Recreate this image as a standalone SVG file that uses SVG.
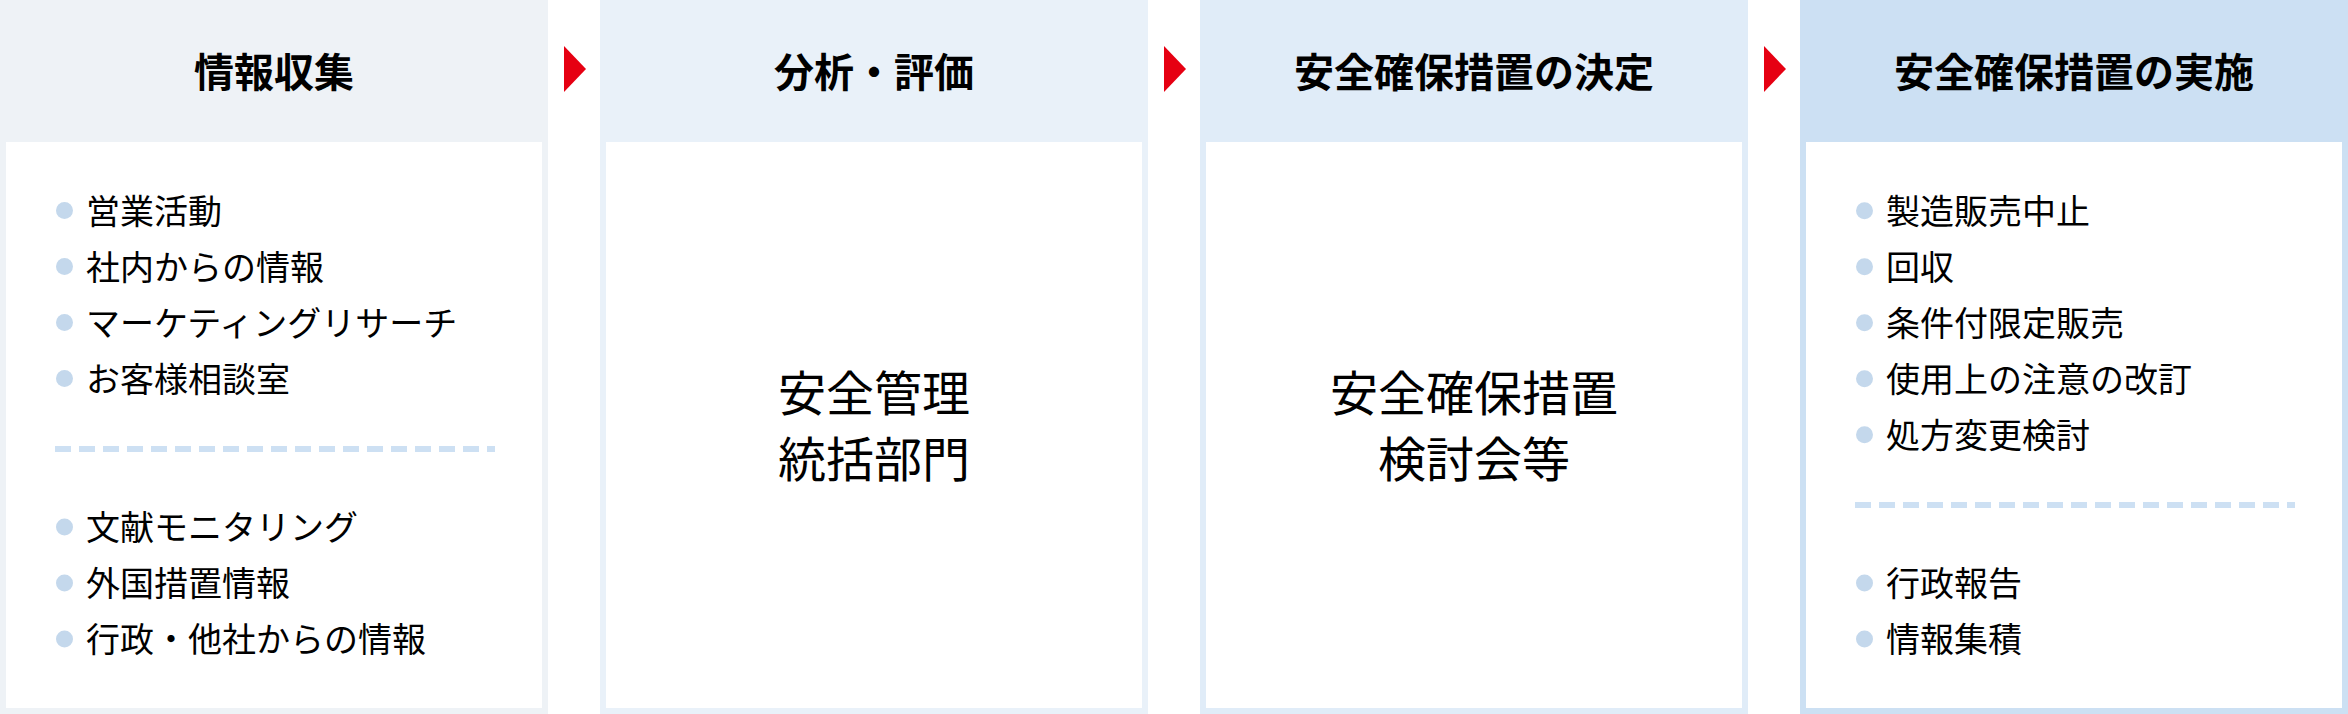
<svg xmlns="http://www.w3.org/2000/svg" width="2348" height="714" viewBox="0 0 2348 714">
<style>
.hd{font-family:"Noto Sans CJK JP","Noto Sans",sans-serif;font-weight:700;font-size:40px;fill:#000;text-anchor:middle}
.li{font-family:"Noto Sans CJK JP","Noto Sans",sans-serif;font-size:34px;fill:#000}
.mid{font-family:"Noto Sans CJK JP","Noto Sans",sans-serif;font-size:48px;fill:#000;text-anchor:middle}
.inner{fill:#fff}
.dot{fill:#c4d8ec}
.dash{stroke:#cde0f3;stroke-width:6;stroke-dasharray:16 8;fill:none}
.arr{fill:#e60012}
</style>
<rect x="0" y="0" width="2348" height="714" fill="#fff"/>
<g id="col1">
<rect x="0" y="0" width="548" height="714" fill="#eef2f6"/>
<rect class="inner" x="6" y="142" width="536" height="566"/>
<text class="hd" x="274" y="87">情報収集</text>
<circle class="dot" cx="64.5" cy="210.5" r="8.5"/><text class="li" x="86" y="223.5">営業活動</text>
<circle class="dot" cx="64.5" cy="266.5" r="8.5"/><text class="li" x="86" y="279.5">社内からの情報</text>
<circle class="dot" cx="64.5" cy="322.5" r="8.5"/><text class="li" x="86" y="335.5">マーケティングリサーチ</text>
<circle class="dot" cx="64.5" cy="378.5" r="8.5"/><text class="li" x="86" y="391.5">お客様相談室</text>
<line class="dash" x1="55" y1="449" x2="495" y2="449"/>
<circle class="dot" cx="64.5" cy="527" r="8.5"/><text class="li" x="86" y="540">文献モニタリング</text>
<circle class="dot" cx="64.5" cy="583" r="8.5"/><text class="li" x="86" y="596">外国措置情報</text>
<circle class="dot" cx="64.5" cy="639" r="8.5"/><text class="li" x="86" y="652">行政・他社からの情報</text>
</g>
<g id="col2">
<rect x="600" y="0" width="548" height="714" fill="#e9f1f9"/>
<rect class="inner" x="606" y="142" width="536" height="566"/>
<text class="hd" x="874" y="87">分析・評価</text>
<text class="mid" x="874" y="411">安全管理</text>
<text class="mid" x="874" y="477">統括部門</text>
</g>
<g id="col3">
<rect x="1200" y="0" width="548" height="714" fill="#e0ecf8"/>
<rect class="inner" x="1206" y="142" width="536" height="566"/>
<text class="hd" x="1474" y="87">安全確保措置の決定</text>
<text class="mid" x="1474" y="411">安全確保措置</text>
<text class="mid" x="1474" y="477">検討会等</text>
</g>
<g id="col4">
<rect x="1800" y="0" width="548" height="714" fill="#cce0f3"/>
<rect class="inner" x="1806" y="142" width="536" height="566"/>
<text class="hd" x="2074" y="87">安全確保措置の実施</text>
<circle class="dot" cx="1864.5" cy="210.8" r="8.5"/><text class="li" x="1886" y="223.8">製造販売中止</text>
<circle class="dot" cx="1864.5" cy="266.8" r="8.5"/><text class="li" x="1886" y="279.8">回収</text>
<circle class="dot" cx="1864.5" cy="322.8" r="8.5"/><text class="li" x="1886" y="335.8">条件付限定販売</text>
<circle class="dot" cx="1864.5" cy="378.8" r="8.5"/><text class="li" x="1886" y="391.8">使用上の注意の改訂</text>
<circle class="dot" cx="1864.5" cy="434.8" r="8.5"/><text class="li" x="1886" y="447.8">処方変更検討</text>
<line class="dash" x1="1855" y1="505" x2="2295" y2="505"/>
<circle class="dot" cx="1864.5" cy="583" r="8.5"/><text class="li" x="1886" y="596">行政報告</text>
<circle class="dot" cx="1864.5" cy="639" r="8.5"/><text class="li" x="1886" y="652">情報集積</text>
</g>
<g id="connectors">
<polygon class="arr" points="564,46 586,69 564,92"/>
<polygon class="arr" points="1164,46 1186,69 1164,92"/>
<polygon class="arr" points="1764,46 1786,69 1764,92"/>
</g>
</svg>
